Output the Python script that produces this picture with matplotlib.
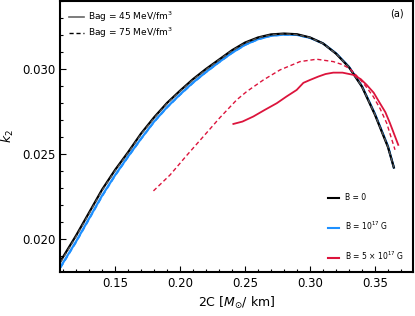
import matplotlib
matplotlib.use("Agg")
import matplotlib.pyplot as plt
from matplotlib.lines import Line2D
from matplotlib.ticker import MultipleLocator

# B = 0 and B = 1e17 G curves (both bag constants share the x grid)
x_main = [0.108, 0.12, 0.13, 0.14, 0.15, 0.16, 0.17, 0.18, 0.19, 0.20, 0.21, 0.22,
          0.23, 0.24, 0.25, 0.26, 0.27, 0.28, 0.29, 0.30, 0.31, 0.32, 0.33, 0.34,
          0.35, 0.36, 0.3645]
k2_b0_bag45 = [0.01869, 0.02020, 0.02155, 0.02290, 0.02406, 0.02510, 0.02620, 0.02715,
               0.02800, 0.02872, 0.02940, 0.03000, 0.03055, 0.03110, 0.03155, 0.03185,
               0.03203, 0.03208, 0.03204, 0.03185, 0.03150, 0.03090, 0.03010, 0.02895,
               0.02730, 0.02540, 0.02420]
k2_b0_bag75 = [0.01862, 0.02013, 0.02148, 0.02284, 0.02400, 0.02505, 0.02615, 0.02710,
               0.02796, 0.02868, 0.02936, 0.02996, 0.03052, 0.03107, 0.03152, 0.03183,
               0.03201, 0.03206, 0.03202, 0.03184, 0.03149, 0.03090, 0.03010, 0.02896,
               0.02732, 0.02542, 0.02420]
k2_b17_bag45 = [0.01835, 0.01985, 0.02120, 0.02255, 0.02375, 0.02485, 0.02590, 0.02690,
                0.02775, 0.02850, 0.02920, 0.02982, 0.03040, 0.03095, 0.03142, 0.03175,
                0.03195, 0.03202, 0.03200, 0.03183, 0.03150, 0.03092, 0.03012, 0.02898,
                0.02735, 0.02545, 0.02420]
k2_b17_bag75 = [0.01830, 0.01980, 0.02115, 0.02250, 0.02371, 0.02481, 0.02587, 0.02687,
                0.02772, 0.02847, 0.02917, 0.02980, 0.03038, 0.03093, 0.03140, 0.03173,
                0.03194, 0.03201, 0.03199, 0.03182, 0.03150, 0.03092, 0.03012, 0.02898,
                0.02735, 0.02545, 0.02420]

# B = 5e17 G
x_b5_bag75 = [0.1795, 0.1923, 0.205, 0.2179, 0.2305, 0.2436, 0.2513, 0.2641, 0.2769,
              0.2923, 0.3051, 0.3179, 0.3250, 0.3308, 0.3372, 0.3430, 0.3487, 0.3540,
              0.359, 0.3654]
k2_b5_bag75 = [0.02282, 0.02376, 0.02490, 0.02602, 0.02712, 0.02818, 0.02867, 0.02935,
               0.02994, 0.03043, 0.03057, 0.03043, 0.03025, 0.03000, 0.02950, 0.02897,
               0.02837, 0.02765, 0.02681, 0.02524]
x_b5_bag45 = [0.241, 0.248, 0.2564, 0.2650, 0.2744, 0.2820, 0.2897, 0.2949, 0.3000,
              0.3064, 0.3120, 0.3179, 0.3250, 0.3333, 0.3390, 0.3436, 0.3490, 0.3538,
              0.3580, 0.3615, 0.3679]
k2_b5_bag45 = [0.02676, 0.02690, 0.02720, 0.02758, 0.02798, 0.02838, 0.02876, 0.02918,
               0.02935, 0.02955, 0.02970, 0.02978, 0.02978, 0.02965, 0.02940, 0.02906,
               0.02860, 0.02798, 0.02745, 0.02681, 0.02553]

blue = "#1e90ff"
red = "#dc143c"

fig, ax = plt.subplots(figsize=(4.15, 3.16), dpi=100)
fig.subplots_adjust(left=0.145, right=0.995, top=0.997, bottom=0.14)

ax.plot(x_main, k2_b17_bag45, color=blue, lw=1.6)
ax.plot(x_main, k2_b17_bag75, color=blue, lw=1.2, ls=(0, (3, 2)))
ax.plot(x_main, k2_b0_bag45, color="black", lw=1.6)
ax.plot(x_main, k2_b0_bag75, color="#555555", lw=1.0, ls=(0, (3, 2)))
ax.plot(x_b5_bag45, k2_b5_bag45, color=red, lw=1.3)
ax.plot(x_b5_bag75, k2_b5_bag75, color=red, lw=1.0, ls=(0, (3, 2)))

ax.set_xlim(0.1077, 0.3792)
ax.set_ylim(0.01806, 0.034)
ax.xaxis.set_major_locator(MultipleLocator(0.05))
ax.xaxis.set_minor_locator(MultipleLocator(0.01))
ax.yaxis.set_major_locator(MultipleLocator(0.005))
ax.yaxis.set_minor_locator(MultipleLocator(0.001))
ax.tick_params(which="both", direction="in", labelsize=8.5, width=0.8)
ax.tick_params(which="major", length=4)
ax.tick_params(which="minor", length=2)
for s in ax.spines.values():
    s.set_linewidth(1.5)

ax.set_xlabel(r"2C [$M_{\odot}$/ km]", fontsize=9, labelpad=4)
ax.set_ylabel(r"$k_2$", fontsize=9, labelpad=4)
ax.text(0.955, 0.955, "(a)", transform=ax.transAxes, fontsize=7, ha="center", va="center")

leg1 = ax.legend(
    handles=[Line2D([], [], color="#666666", lw=1.2),
             Line2D([], [], color="black", lw=1.0, ls=(0, (3, 2)))],
    labels=[r"Bag = 45 MeV/fm$^3$", r"Bag = 75 MeV/fm$^3$"],
    loc="upper left", bbox_to_anchor=(0.0, 1.0), frameon=False, fontsize=6.5,
    handlelength=1.6, handletextpad=0.5, labelspacing=0.1, borderaxespad=0.6)
ax.add_artist(leg1)

ax.legend(
    handles=[Line2D([], [], color="black", lw=1.5),
             Line2D([], [], color=blue, lw=1.5),
             Line2D([], [], color=red, lw=1.5)],
    labels=["B = 0", r"B = 10$^{17}$ G", r"B = 5 $\times$ 10$^{17}$ G"],
    loc="lower right", bbox_to_anchor=(0.995, 0.01), frameon=False, fontsize=5.5,
    handlelength=1.4, handletextpad=0.8, labelspacing=2.3)

fig.savefig("out.png", dpi=100)
